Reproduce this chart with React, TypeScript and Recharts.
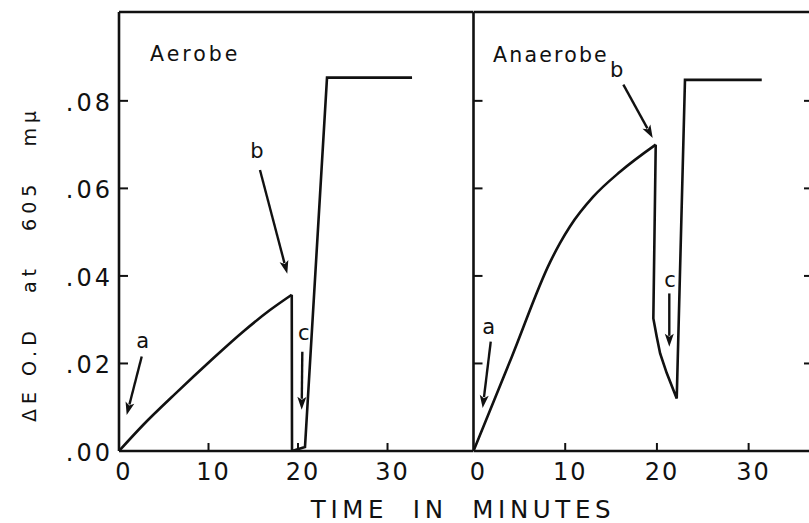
import React from 'react';
import { LineChart, Line, XAxis, YAxis, ReferenceLine, Customized } from 'recharts';

// ---- data ----
const timeTicks = [0, 10, 20, 30];
const innerTimeTicks = [10, 20, 30];
const odTicks = [0, 0.02, 0.04, 0.06, 0.08];

const aerobeCurve = [
  { t: 0, v: 0 },
  { t: 2.72, v: 0.006 },
  { t: 6.45, v: 0.0134 },
  { t: 10.17, v: 0.0205 },
  { t: 13.89, v: 0.0273 },
  { t: 16.87, v: 0.0322 },
  { t: 19.3, v: 0.0357 },
];
const aerobeSteps = [
  { t: 19.3, v: 0.0357 },
  { t: 19.33, v: 0 },
  { t: 20.78, v: 0.0009 },
  { t: 23.24, v: 0.0853 },
  { t: 32.74, v: 0.0853 },
];
const anaerobeCurve = [
  { t: 0, v: 0 },
  { t: 4.17, v: 0.0215 },
  { t: 8.34, v: 0.0431 },
  { t: 9.43, v: 0.0475 },
  { t: 10.52, v: 0.0513 },
  { t: 13.06, v: 0.0581 },
  { t: 15.98, v: 0.0638 },
  { t: 19.87, v: 0.07 },
];
const anaerobeSteps = [
  { t: 19.87, v: 0.07 },
  { t: 19.61, v: 0.0303 },
  { t: 19.98, v: 0.0261 },
  { t: 20.35, v: 0.0223 },
  { t: 21.07, v: 0.0178 },
  { t: 22.16, v: 0.012 },
  { t: 23.06, v: 0.0848 },
  { t: 31.43, v: 0.0848 },
];

const aerobeArrows = [
  { letter: 'a', from: { t: 2.54, v: 0.0216 }, to: { t: 0.86, v: 0.0082 } },
  { letter: 'b', from: { t: 15.75, v: 0.0642 }, to: { t: 18.8, v: 0.0405 } },
  { letter: 'c', from: { t: 20.48, v: 0.0227 }, to: { t: 20.41, v: 0.0094 } },
];
const anaerobeArrows = [
  { letter: 'a', from: { t: 1.88, v: 0.025 }, to: { t: 1.0, v: 0.0098 } },
  { letter: 'b', from: { t: 16.34, v: 0.0837 }, to: { t: 19.54, v: 0.0715 } },
  { letter: 'c', from: { t: 21.35, v: 0.036 }, to: { t: 21.35, v: 0.0238 } },
];

const panelTitles = ['Aerobe', 'Anaerobe'];
const yTitle = 'ΔE O.D   at   605   mμ';
const xTitle = 'TIME  IN  MINUTES';

// ---- styles ----
const FONT = 'DejaVu Sans';
const INK = '#111';
const LW = 2.6;
const TW = 2;
const yDomain: [number, number] = [0, 0.1003];
const axisLineStyle = { stroke: INK, strokeWidth: LW };

const letterOffsets: Record<string, [number, number]> = {
  'A-a': [1, -8],
  'A-b': [-3, -12],
  'A-c': [1.5, -12],
  'B-a': [-2, -8],
  'B-b': [-6.6, -8],
  'B-c': [0.7, -6.6],
};

const fmtOD = (v: number) => v.toFixed(2).replace(/^0/, '');

// left axis of the Aerobe panel: label + inward tick
const YTick = (props: any) => {
  const { x, y, payload } = props;
  return (
    <g>
      {payload.value !== 0 && <line x1={x} x2={x + 9} y1={y} y2={y} stroke={INK} strokeWidth={TW} />}
      <text x={x - 6} y={y + 10} textAnchor="end" fontFamily={FONT} fontSize={24} letterSpacing={3} fill={INK}>
        {fmtOD(payload.value)}
      </text>
    </g>
  );
};

// inward tick only (left axis of Anaerobe panel)
const YInnerTick = (props: any) => {
  const { x, y, payload } = props;
  if (payload.value === 0) return <g />;
  return <line x1={x} x2={x + 9} y1={y} y2={y} stroke={INK} strokeWidth={TW} />;
};

// inward tick only (right axis)
const YRightTick = (props: any) => {
  const { x, y, payload } = props;
  if (payload.value === 0) return <g />;
  return <line x1={x} x2={x - 8} y1={y} y2={y} stroke={INK} strokeWidth={TW} />;
};

// bottom axis: label + inward tick
const XTick = (props: any) => {
  const { x, y, payload } = props;
  return (
    <g>
      {payload.value !== 0 && <line x1={x} x2={x} y1={y} y2={y - 8} stroke={INK} strokeWidth={TW} />}
      <text x={x + 5} y={y + 29} textAnchor="middle" fontFamily={FONT} fontSize={24} letterSpacing={2} fill={INK}>
        {String(payload.value)}
      </text>
    </g>
  );
};

// top axis: inward tick only
const XTopTick = (props: any) => {
  const { x, y, payload } = props;
  if (payload.value === 0) return <g />;
  return <line x1={x} x2={x} y1={y} y2={y + 8} stroke={INK} strokeWidth={TW} />;
};

const makeArrowShape = (key: string, letter: string) => (p: any) => {
  const { x1, y1, x2, y2 } = p;
  if ([x1, y1, x2, y2].some((n) => typeof n !== 'number' || isNaN(n))) return <g />;
  const dx = x2 - x1;
  const dy = y2 - y1;
  const len = Math.sqrt(dx * dx + dy * dy) || 1;
  const ux = dx / len;
  const uy = dy / len;
  const hl = 13;
  const hw = 4.5;
  const bx = x2 - ux * hl;
  const by = y2 - uy * hl;
  const off = letterOffsets[key] || [0, -8];
  return (
    <g>
      <line x1={x1} y1={y1} x2={bx + ux * 2} y2={by + uy * 2} stroke={INK} strokeWidth={2.4} />
      <polygon
        points={`${x2},${y2} ${bx - uy * hw},${by + ux * hw} ${bx + ux * 3},${by + uy * 3} ${bx + uy * hw},${by - ux * hw}`}
        fill={INK}
      />
      <text x={x1 + off[0]} y={y1 + off[1]} textAnchor="middle" fontFamily={FONT} fontSize={21} fill={INK}>
        {letter}
      </text>
    </g>
  );
};

const Titles = () => (
  <g>
    <text x={150} y={61} fontFamily={FONT} fontSize={20.5} letterSpacing={3} fill={INK}>
      {panelTitles[0]}
    </text>
    <text x={493} y={62} fontFamily={FONT} fontSize={20.5} letterSpacing={2.2} fill={INK}>
      {panelTitles[1]}
    </text>
    <text
      transform="translate(36,264) rotate(-90)"
      textAnchor="middle"
      fontFamily={FONT}
      fontSize={19}
      letterSpacing={5}
      fill={INK}
      style={{ whiteSpace: 'pre' }}
    >
      {yTitle}
    </text>
    <text
      x={463}
      y={518}
      textAnchor="middle"
      fontFamily={FONT}
      fontSize={24.5}
      letterSpacing={4.6}
      fill={INK}
      style={{ whiteSpace: 'pre' }}
    >
      {xTitle}
    </text>
  </g>
);

const lineCommon = {
  xAxisId: 'b',
  yAxisId: 'l',
  dataKey: 'v',
  stroke: INK,
  strokeWidth: LW,
  dot: false,
  isAnimationActive: false,
} as const;

export default function App() {
  return (
    <div style={{ position: 'fixed', left: 0, top: 0, width: 809, height: 523, overflow: 'hidden', background: '#fff' }}>
      {/* Aerobe panel */}
      <div style={{ position: 'absolute', left: 0, top: 0 }}>
        <LineChart width={809} height={523} margin={{ top: 11, right: 336, bottom: 0, left: 0 }}>
          <XAxis
            xAxisId="b"
            type="number"
            dataKey="t"
            domain={[0, 39.55]}
            ticks={timeTicks}
            allowDataOverflow
            height={72}
            axisLine={axisLineStyle}
            tickLine={false}
            tickSize={0}
            tickMargin={0}
            tick={<XTick />}
            interval={0}
          />
          <XAxis
            xAxisId="tm"
            orientation="top"
            type="number"
            domain={[0, 39.55]}
            ticks={innerTimeTicks}
            allowDataOverflow
            height={1}
            axisLine={axisLineStyle}
            tickLine={false}
            tickSize={0}
            tickMargin={0}
            tick={<XTopTick />}
            interval={0}
          />
          <YAxis
            yAxisId="l"
            type="number"
            domain={yDomain}
            ticks={odTicks}
            allowDataOverflow
            width={119}
            axisLine={axisLineStyle}
            tickLine={false}
            tickSize={0}
            tickMargin={0}
            tick={<YTick />}
            interval={0}
          />
          <Line {...lineCommon} data={aerobeCurve} type="monotone" />
          <Line {...lineCommon} data={aerobeSteps} type="linear" />
          {aerobeArrows.map((a) => (
            <ReferenceLine
              key={'A' + a.letter}
              xAxisId="b"
              yAxisId="l"
              segment={[{ x: a.from.t, y: a.from.v }, { x: a.to.t, y: a.to.v }]}
              ifOverflow="visible"
              shape={makeArrowShape('A-' + a.letter, a.letter)}
            />
          ))}
          <Customized component={<Titles />} />
        </LineChart>
      </div>
      {/* Anaerobe panel */}
      <div style={{ position: 'absolute', left: 0, top: 0 }}>
        <LineChart width={832} height={523} margin={{ top: 11, right: 0, bottom: 0, left: 0 }}>
          <XAxis
            xAxisId="b"
            type="number"
            dataKey="t"
            domain={[0, 36.91]}
            ticks={timeTicks}
            allowDataOverflow
            height={72}
            axisLine={axisLineStyle}
            tickLine={false}
            tickSize={0}
            tickMargin={0}
            tick={<XTick />}
            interval={0}
          />
          <XAxis
            xAxisId="tm"
            orientation="top"
            type="number"
            domain={[0, 36.91]}
            ticks={innerTimeTicks}
            allowDataOverflow
            height={1}
            axisLine={axisLineStyle}
            tickLine={false}
            tickSize={0}
            tickMargin={0}
            tick={<XTopTick />}
            interval={0}
          />
          <YAxis
            yAxisId="l"
            type="number"
            domain={yDomain}
            ticks={odTicks}
            allowDataOverflow
            width={473.5}
            axisLine={axisLineStyle}
            tickLine={false}
            tickSize={0}
            tickMargin={0}
            tick={<YInnerTick />}
            interval={0}
          />
          <YAxis
            yAxisId="r"
            orientation="right"
            type="number"
            domain={yDomain}
            ticks={odTicks}
            allowDataOverflow
            width={20}
            axisLine={axisLineStyle}
            tickLine={false}
            tickSize={0}
            tickMargin={0}
            tick={<YRightTick />}
            interval={0}
          />
          <Line {...lineCommon} data={anaerobeCurve} type="monotone" />
          <Line {...lineCommon} data={anaerobeSteps} type="linear" />
          {anaerobeArrows.map((a) => (
            <ReferenceLine
              key={'B' + a.letter}
              xAxisId="b"
              yAxisId="l"
              segment={[{ x: a.from.t, y: a.from.v }, { x: a.to.t, y: a.to.v }]}
              ifOverflow="visible"
              shape={makeArrowShape('B-' + a.letter, a.letter)}
            />
          ))}
        </LineChart>
      </div>
    </div>
  );
}
